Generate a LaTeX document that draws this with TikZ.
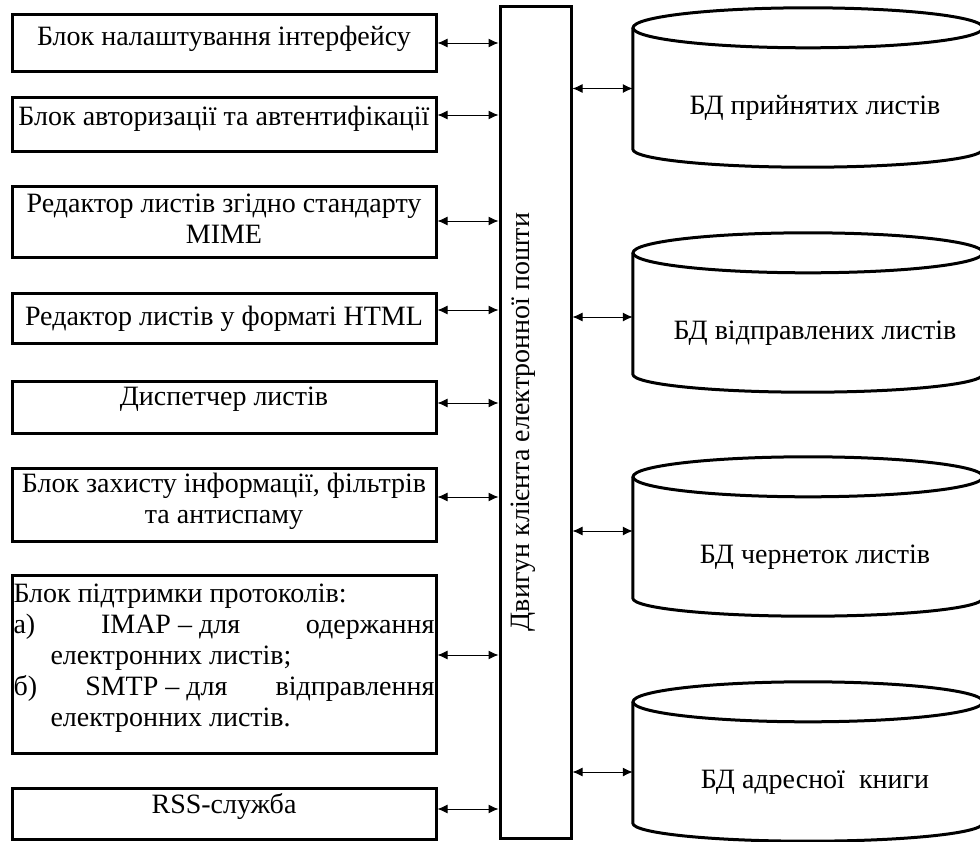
\documentclass[tikz,border=0pt]{standalone}
\usepackage{fontspec}
\setmainfont{Liberation Serif}
\usepackage{tikz}
\usetikzlibrary{arrows.meta,calc}

% Text of the protocol block
\newcommand{\protext}{\parbox[t]{421pt}{\strut Блок підтримки протоколів:\\
а)\hfill IMAP – для\hfill одержання\\
\hspace*{37pt}електронних листів;\\
б)\hfill SMTP – для\hfill відправлення\\
\hspace*{37pt}електронних листів.}}

\begin{document}
\begin{tikzpicture}[x=1pt, y=-1pt, >={Latex[length=10pt,width=9pt]},
    block/.style={draw, line width=3pt, minimum width=424pt, inner sep=0pt},
    blocktext/.style={anchor=north, inner sep=0pt, align=center, font=\fontsize{28}{31}\selectfont},
    dbbody/.style={minimum width=350pt, minimum height=121pt, inner sep=0pt},
    dbline/.style={line width=3pt},
    link/.style={<->, line width=1pt}]

% Page frame
\useasboundingbox (0,0) rectangle (980,841);
\clip (0,0) rectangle (980,841);

% Engine
\node[draw, line width=3pt, minimum width=71pt, minimum height=832pt, inner sep=0pt] (eng) at (535.5,422) {};
\node[rotate=90, inner sep=0pt, font=\fontsize{28}{31}\selectfont] (engtxt) at (523,422) {Двигун клієнта електронної пошти};

% Left blocks
\foreach \n/\ytop/\ybot/\ay/\ty/\txt in {
    1/14/71/43/45/{Блок налаштування інтерфейсу},
    2/97/151/115/125/{Блок авторизації та автентифікації},
    3/186/257/221/212/{Редактор листів згідно стандарту\\MIME},
    4/293/343/310/325/{Редактор листів у форматі HTML},
    5/381/433/403/405/{Диспетчер листів},
    6/468/541/497/492/{Блок захисту інформації, фільтрів\\та антиспаму},
    7/575/753/655/602/{\protext},
    8/788/839/809/813/{RSS-служба}} {
    \node[block, minimum height=\ybot-\ytop] (b\n) at (224,{(\ytop+\ybot)/2}) {};
    \node[blocktext] (t\n) at (224,\ty-21.7) {\strut\txt};
    \coordinate (a\n) at ([yshift={(\ytop+\ybot)/2-\ay}]b\n.east);
    \draw[link] (a\n) -- (a\n -| eng.west);
}

% Databases
\foreach \n/\yc/\dy/\txt in {
    1/28/0/{БД прийнятих листів},
    2/253/-3.5/{БД відправлених листів},
    3/477/6.5/{БД чернеток листів},
    4/702/-9.5/{БД адресної\ \ книги}} {
    \node[dbbody] (db\n) at (808,\yc+60.5) {};
    \draw[dbline] (db\n.north west) -- (db\n.south west)
        arc[start angle=180, end angle=0, x radius=175, y radius=18] -- (db\n.north east);
    \draw[dbline] (db\n.north) ellipse[x radius=175, y radius=20];
    \node[anchor=base, inner sep=0pt, font=\fontsize{28}{31}\selectfont] (dt\n) at (815,\yc+86) {\txt};
    \coordinate (c\n) at ([yshift=\dy]db\n.west);
    \draw[link] (c\n -| eng.east) -- (c\n);
}

\end{tikzpicture}
\end{document}
